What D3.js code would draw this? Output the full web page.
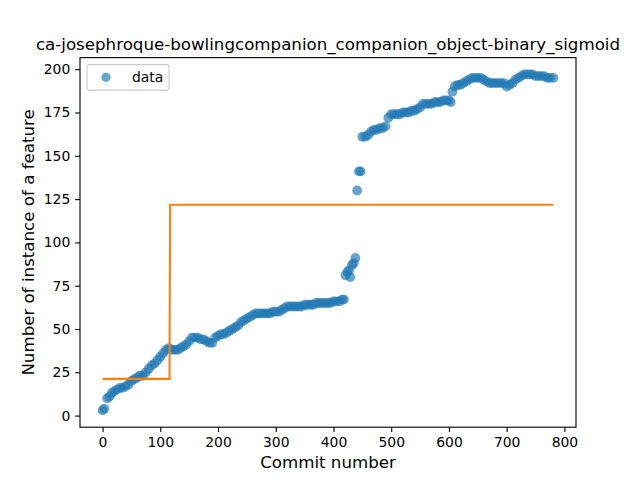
<!DOCTYPE html>
<html>
<head>
<meta charset="utf-8">
<script src="https://cdn.jsdelivr.net/npm/d3@7"></script>
<style>
  body { margin: 0; background: #fff; }
  text { font-family: "DejaVu Sans", sans-serif; }
</style>
</head>
<body>
<div id="chart"></div>
<script>
//Data
const commits = [0, 3, 8, 12, 16, 20, 25, 30, 35, 40, 45, 50, 55, 60, 65, 70, 75, 80, 85, 90,
  95, 100, 105, 110, 115, 120, 125, 130, 135, 140, 145, 150, 155, 160, 165, 170, 175, 180, 185, 190,
  195, 200, 205, 210, 215, 220, 225, 230, 235, 240, 245, 250, 255, 260, 265, 270, 275, 280, 285, 290,
  295, 300, 305, 310, 315, 320, 325, 330, 335, 340, 345, 350, 355, 360, 365, 370, 375, 380, 385, 390,
  395, 400, 405, 410, 415, 418, 421, 424, 427, 429, 432, 435, 438, 441, 444, 447, 450, 455, 460, 465,
  470, 475, 480, 485, 490, 495, 500, 505, 510, 515, 520, 525, 530, 535, 540, 545, 550, 555, 560, 565,
  570, 575, 580, 585, 590, 595, 600, 603, 606, 610, 615, 620, 625, 630, 635, 640, 645, 650, 655, 660,
  665, 670, 675, 680, 685, 690, 695, 700, 705, 710, 715, 720, 725, 730, 735, 740, 745, 750, 755, 760,
  765, 770, 775, 781];
const features = [3, 4, 10, 11, 13, 14, 15, 16, 16, 17, 18, 20, 21, 22, 23, 23, 25, 27, 29, 30,
  32, 34, 36, 38, 39, 38, 38, 38, 39, 40, 41, 43, 45, 45, 45, 44, 44, 43, 42, 42,
  45, 46, 47, 47, 48, 49, 50, 51, 52, 54, 55, 56, 57, 58, 59, 59, 59, 59, 59, 59,
  60, 60, 60, 61, 62, 63, 63, 63, 63, 63, 63, 64, 64, 64, 64, 65, 65, 65, 65, 65,
  65, 66, 66, 66, 67, 67, 81, 83, 84, 80, 87, 88, 91, 130, 141, 141, 161, 161, 162, 164,
  165, 165, 166, 166, 167, 172, 174, 174, 174, 174, 175, 175, 175, 176, 176, 177, 178, 180, 180, 180,
  180, 181, 181, 181, 182, 182, 182, 181, 187, 190, 191, 191, 192, 193, 194, 195, 195, 195, 195, 194,
  193, 192, 192, 192, 192, 192, 192, 190, 191, 192, 194, 195, 196, 197, 197, 197, 197, 196, 196, 196,
  196, 195, 195, 195];

//Binary sigmoid fit (step)
const fitX = [0, 116, 117, 781];
const fitY = [21.2, 21.2, 121.7, 121.7];

const xTicks = [0, 100, 200, 300, 400, 500, 600, 700, 800];
const yTicks = [0, 25, 50, 75, 100, 125, 150, 175, 200];

const title = "ca-josephroque-bowlingcompanion_companion_object-binary_sigmoid";

function buildChart() {
    const width = 640, height = 480;
    const left = 80, right = 576, top = 57.6, bottom = 427.2;
    const blue = "#1f77b4", orange = "#ff7f0e";

    const svg = d3.select("#chart").append("svg")
        .attr("width", width)
        .attr("height", height);
    svg.append("rect").attr("width", width).attr("height", height).attr("fill", "#fff");

    //Scales with matplotlib-like 5% margins
    const xExt = d3.extent(commits.concat(fitX));
    const yExt = d3.extent(features.concat(fitY));
    const xPad = (xExt[1] - xExt[0]) * 0.05;
    const yPad = (yExt[1] - yExt[0]) * 0.05;
    const x = d3.scaleLinear().domain([xExt[0] - xPad, xExt[1] + xPad]).range([left, right]);
    const y = d3.scaleLinear().domain([yExt[0] - yPad, yExt[1] + yPad]).range([bottom, top]);

    //Points
    svg.append("g").selectAll("circle")
        .data(commits)
        .join("circle")
        .attr("cx", d => x(d))
        .attr("cy", (d, i) => y(features[i]))
        .attr("r", 4.9)
        .attr("fill", blue)
        .attr("fill-opacity", 0.68);

    //Fit line
    const line = d3.line().x(d => x(d[0])).y(d => y(d[1]));
    svg.append("path")
        .datum(fitX.map((d, i) => [d, fitY[i]]))
        .attr("d", line)
        .attr("fill", "none")
        .attr("stroke", orange)
        .attr("stroke-width", 2.08);

    //Axes
    const xAxis = svg.append("g")
        .attr("transform", `translate(0,${bottom})`)
        .call(d3.axisBottom(x).tickValues(xTicks).tickSize(4.86).tickPadding(4.86));
    const yAxis = svg.append("g")
        .attr("transform", `translate(${left},0)`)
        .call(d3.axisLeft(y).tickValues(yTicks).tickSize(4.86).tickPadding(4.86));
    [xAxis, yAxis].forEach(a => {
        a.select(".domain").remove();
        a.selectAll(".tick line").attr("stroke", "#000").attr("stroke-width", 1.11);
        a.selectAll(".tick text")
            .attr("fill", "#000")
            .style("font-family", "DejaVu Sans")
            .style("font-size", "13.9px");
    });

    //Frame
    svg.append("rect")
        .attr("x", left).attr("y", top)
        .attr("width", right - left).attr("height", bottom - top)
        .attr("fill", "none").attr("stroke", "#000").attr("stroke-width", 1.11);

    //Labels
    svg.append("text")
        .attr("x", (left + right) / 2).attr("y", 49.5)
        .attr("text-anchor", "middle")
        .style("font-size", "16.67px")
        .text(title);
    svg.append("text")
        .attr("x", (left + right) / 2).attr("y", 468)
        .attr("text-anchor", "middle")
        .style("font-size", "16.67px")
        .text("Commit number");
    svg.append("text")
        .attr("transform", `translate(34,${(top + bottom) / 2}) rotate(-90)`)
        .attr("text-anchor", "middle")
        .style("font-size", "16.67px")
        .text("Number of instance of a feature");

    //Legend
    const legend = svg.append("g");
    legend.append("rect")
        .attr("x", 87).attr("y", 64.6)
        .attr("width", 82).attr("height", 25.5)
        .attr("rx", 2.8)
        .attr("fill", "#fff").attr("fill-opacity", 0.8)
        .attr("stroke", "#cccccc").attr("stroke-width", 1.11);
    legend.append("circle")
        .attr("cx", 106).attr("cy", 77.3).attr("r", 4.6)
        .attr("fill", blue).attr("fill-opacity", 0.68);
    legend.append("text")
        .attr("x", 132).attr("y", 82.3)
        .style("font-size", "13.9px")
        .text("data");
};

buildChart();
</script>
</body>
</html>
